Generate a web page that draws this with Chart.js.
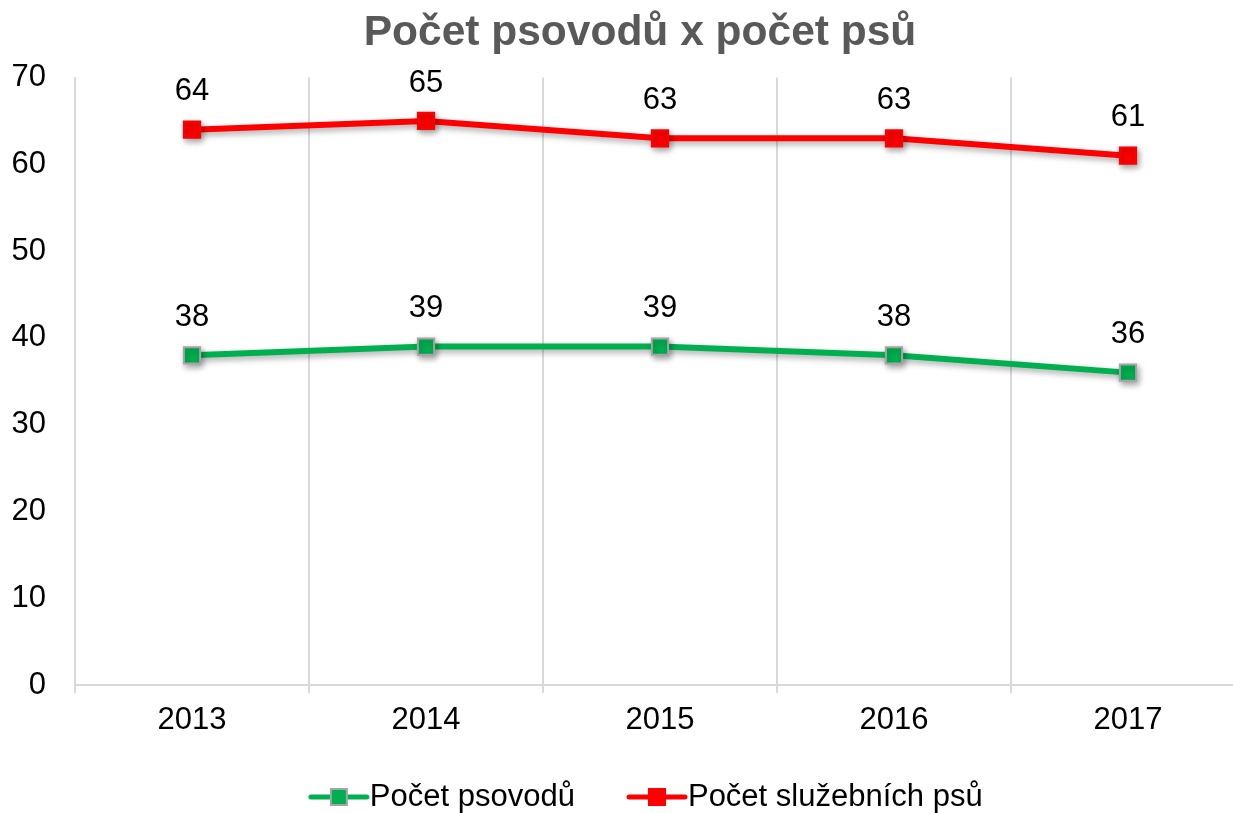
<!DOCTYPE html>
<html>
<head>
<meta charset="utf-8">
<script src="https://cdn.jsdelivr.net/npm/chart.js@4/dist/chart.umd.min.js"></script>
<style>
  body { margin: 0; overflow: hidden; background: #fff; }
</style>
</head>
<body>
<canvas id="chart" width="1280" height="830"></canvas>
<script>
const years = ['2013', '2014', '2015', '2016', '2017'];
const psovodu = [38, 39, 39, 38, 36];
const psu = [64, 65, 63, 63, 61];
const yTicks = [0, 10, 20, 30, 40, 50, 60, 70];

const FONT = '"Liberation Sans", Arial, sans-serif';
const GREEN = '#00B050';
const RED = '#FF0000';
const GRID = '#D9D9D9';

// legend swatch: line with a square marker, shifted right of the box centre
function swatch(color, border) {
    const c = document.createElement('canvas');
    c.width = 110;
    c.height = 22;
    const ctx = c.getContext('2d');
    ctx.strokeStyle = color;
    ctx.lineWidth = 5;
    ctx.lineCap = 'round';
    ctx.beginPath();
    ctx.moveTo(40, 11);
    ctx.lineTo(96, 11);
    ctx.stroke();
    ctx.fillStyle = color;
    ctx.fillRect(59, 3, 18, 16);
    ctx.strokeStyle = border;
    ctx.lineWidth = 2;
    ctx.strokeRect(60, 3, 16, 16);
    return c;
}

const lineShadow = {
    id: 'lineShadow',
    beforeDatasetsDraw(chart) {
        const ctx = chart.ctx;
        ctx.save();
        ctx.shadowColor = 'rgba(0,0,0,0.35)';
        ctx.shadowBlur = 6;
        ctx.shadowOffsetX = 2;
        ctx.shadowOffsetY = 3;
    },
    afterDatasetsDraw(chart) {
        chart.ctx.restore();
    }
};

const valueLabels = {
    id: 'valueLabels',
    afterDatasetsDraw(chart) {
        const ctx = chart.ctx;
        ctx.save();
        ctx.font = '31px ' + FONT;
        ctx.fillStyle = '#000';
        ctx.textAlign = 'center';
        ctx.textBaseline = 'middle';
        chart.data.datasets.forEach((ds, i) => {
            chart.getDatasetMeta(i).data.forEach((pt, j) => {
                ctx.fillText(ds.data[j], pt.x, pt.y - 38);
            });
        });
        ctx.restore();
    }
};

new Chart(document.getElementById('chart'), {
    type: 'line',
    data: {
        labels: years,
        datasets: [{
            label: 'Počet psovodů',
            data: psovodu,
            borderColor: GREEN,
            backgroundColor: GREEN,
            borderWidth: 6,
            pointStyle: 'rect',
            pointRadius: 11.5,
            pointBorderColor: '#A5A5A5',
            pointBorderWidth: 2,
            tension: 0
        }, {
            label: 'Počet služebních psů',
            data: psu,
            borderColor: RED,
            backgroundColor: RED,
            borderWidth: 6,
            pointStyle: 'rect',
            pointRadius: 11.5,
            pointBorderColor: RED,
            pointBorderWidth: 2,
            tension: 0
        }]
    },
    options: {
        responsive: false,
        animation: false,
        layout: { padding: { left: 0, right: 0, top: 0, bottom: 7.5 } },
        plugins: {
            title: {
                display: true,
                text: 'Počet psovodů x počet psů',
                color: '#595959',
                font: { family: FONT, size: 42.5, weight: 'bold' },
                padding: { top: 8, bottom: 18.6 }
            },
            legend: {
                position: 'bottom',
                labels: {
                    usePointStyle: true,
                    pointStyleWidth: 57,
                    boxHeight: 22,
                    padding: 40.5,
                    color: '#000',
                    font: { family: FONT, size: 31 },
                    generateLabels(chart) {
                        return chart.data.datasets.map((ds, i) => ({
                            text: ds.label,
                            datasetIndex: i,
                            pointStyle: swatch(ds.borderColor, ds.pointBorderColor),
                            fillStyle: ds.borderColor,
                            strokeStyle: ds.borderColor,
                            lineWidth: 0,
                            fontColor: '#000'
                        }));
                    }
                }
            },
            tooltip: { enabled: false }
        },
        scales: {
            x: {
                offset: true,
                grid: { offset: true, color: GRID, lineWidth: 2, tickLength: 8 },
                border: { color: GRID, width: 2 },
                ticks: { color: '#000', font: { family: FONT, size: 31 }, padding: 9 },
                afterFit(scale) { scale.height = 56; }
            },
            y: {
                min: 0,
                max: 70,
                afterBuildTicks(scale) { scale.ticks = yTicks.map(v => ({ value: v })); },
                grid: { display: false },
                border: { color: GRID, width: 2 },
                ticks: { color: '#000', font: { family: FONT, size: 31 }, padding: 21 },
                afterFit(scale) { scale.width = 75; }
            },
            // empty right axis, only reserves the right margin of the plot
            yRight: {
                position: 'right',
                min: 0,
                max: 1,
                grid: { display: false },
                border: { display: false },
                ticks: { display: false },
                afterFit(scale) { scale.width = 35; }
            }
        }
    },
    plugins: [lineShadow, valueLabels]
});
</script>
</body>
</html>
